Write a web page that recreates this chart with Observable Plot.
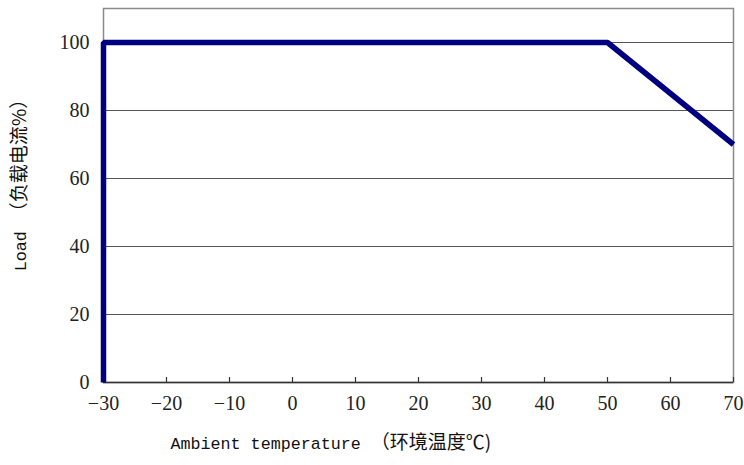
<!DOCTYPE html>
<html>
<head>
<meta charset="utf-8">
<script src="https://cdn.jsdelivr.net/npm/d3@7"></script>
<script src="https://cdn.jsdelivr.net/npm/@observablehq/plot@0.6"></script>
<style>
  html, body { margin: 0; padding: 0; background: #fff; }
</style>
</head>
<body>
<div id="chart"></div>
<script>
const temperature = [-30, -30, 50, 70];
const load = [0, 100, 100, 70];
const xTicks = [-30, -20, -10, 0, 10, 20, 30, 40, 50, 60, 70];
const yTicks = [0, 20, 40, 60, 80, 100];
const gridValues = [20, 40, 60, 80, 100];
const xLabelLatin = "Ambient temperature ";
const xLabelCJK = "（环境温度℃)";
const yLabelLatin = "Load ";
const yLabelCJK = "（负载电流%）";

const points = temperature.map((t, i) => ({t, l: load[i]}));

const chart = Plot.plot({
  width: 744,
  height: 465,
  marginLeft: 103,
  marginRight: 11,
  marginTop: 8,
  marginBottom: 83,
  style: {fontFamily: "'Liberation Serif', serif", fontSize: "20px", background: "#fff", color: "#222"},
  x: {domain: [-30, 70]},
  y: {domain: [0, 110]},
  marks: [
    Plot.ruleY(gridValues, {stroke: "#555", strokeWidth: 1}),
    Plot.frame({stroke: "#8a8a8a", strokeWidth: 1.5}),
    Plot.ruleY([0], {stroke: "#333", strokeWidth: 1.5}),
    Plot.tickX(xTicks, {x: d => d, stroke: "#333", strokeWidth: 1.2, insetTop: 369}),
    Plot.axisX(xTicks, {tickSize: 0, tickPadding: 13, label: null, fontSize: 20}),
    Plot.axisY(yTicks, {tickSize: 0, tickPadding: 14, label: null, fontSize: 20}),
    Plot.line(points, {x: "t", y: "l", stroke: "#000080", strokeWidth: 5.5, strokeLinejoin: "miter", strokeLinecap: "butt"}),
    Plot.text([xLabelLatin + xLabelCJK], {frameAnchor: "bottom-left", dx: 67, dy: 66, textAnchor: "start", fill: "#111"}),
    Plot.text([yLabelLatin + yLabelCJK], {frameAnchor: "left", dx: -84, dy: -15, rotate: -90, textAnchor: "middle", fill: "#111"})
  ]
});

document.getElementById("chart").appendChild(chart);

function splitLabel(full, latin, cjk) {
  d3.select(chart).selectAll("text").each(function() {
    if (this.textContent === full) {
      const t = d3.select(this);
      t.text(null);
      t.append("tspan").attr("font-family", "'Liberation Mono', monospace").attr("font-size", "16.7px").text(latin);
      t.append("tspan").attr("font-family", "'Noto Sans CJK SC', sans-serif").attr("font-size", "19px").text(cjk);
    }
  });
}
splitLabel(xLabelLatin + xLabelCJK, xLabelLatin, xLabelCJK);
splitLabel(yLabelLatin + yLabelCJK, yLabelLatin, yLabelCJK);
</script>
</body>
</html>
